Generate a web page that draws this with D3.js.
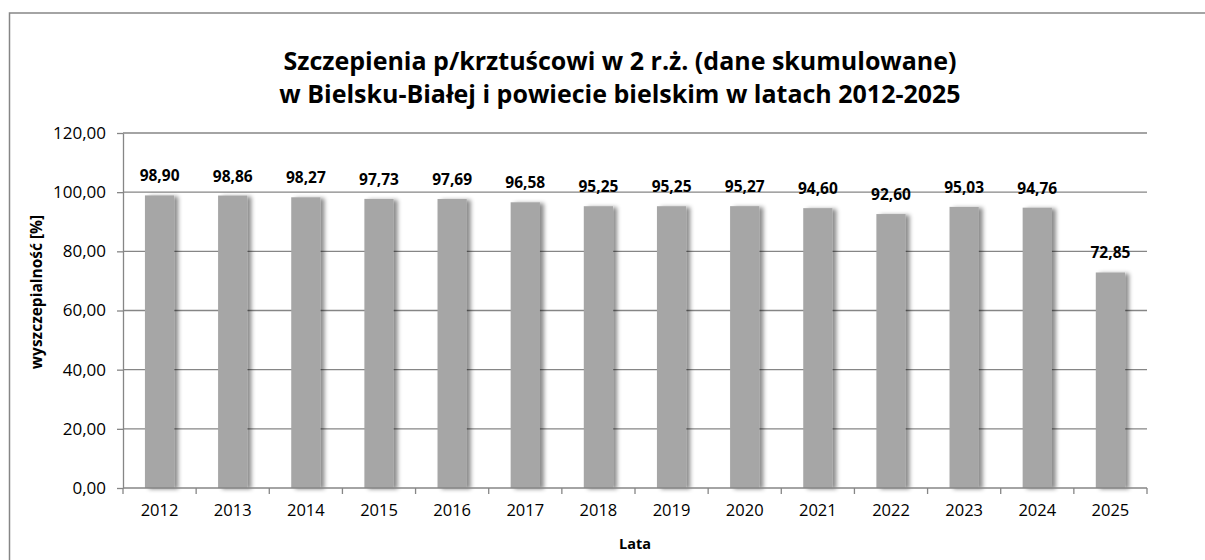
<!DOCTYPE html>
<html>
<head>
<meta charset="utf-8">
<script src="https://cdn.jsdelivr.net/npm/d3@7"></script>
<style>
	body { margin: 0; background: #fff; }
	svg { display: block; font-family: "Open Sans", Lato, sans-serif; }
</style>
</head>
<body>
<div id="chart"></div>
<script>
const years = ["2012", "2013", "2014", "2015", "2016", "2017", "2018", "2019", "2020", "2021", "2022", "2023", "2024", "2025"];
const coverage = [98.90, 98.86, 98.27, 97.73, 97.69, 96.58, 95.25, 95.25, 95.27, 94.60, 92.60, 95.03, 94.76, 72.85];
const yTicks = [0, 20, 40, 60, 80, 100, 120];
const titleLines = ["Szczepienia p/krztuścowi w 2 r.ż. (dane skumulowane)", "w Bielsku-Białej i powiecie bielskim w latach 2012-2025"];

const width = 1205, height = 560;
const plotLeft = 123, plotRight = 1147, plotTop = 133, plotBottom = 488;
const fmt = v => v.toFixed(2).replace(".", ",");

let svg = d3.select("#chart")
			.append("svg")
			.attr("width", width)
			.attr("height", height);

let defs = svg.append("defs");
defs.append("filter")
	.attr("id", "shadow")
	.attr("x", "-20%").attr("y", "-5%")
	.attr("width", "160%").attr("height", "115%")
	.append("feDropShadow")
	.attr("dx", 4).attr("dy", 1)
	.attr("stdDeviation", 2.2)
	.attr("flood-color", "#000")
	.attr("flood-opacity", 0.45);

// chart frame
svg.append("rect")
	.attr("x", 9.5).attr("y", 13)
	.attr("width", 1220).attr("height", 600)
	.attr("fill", "none")
	.attr("stroke", "#868686")
	.attr("stroke-width", 1.5);

svg.append("text")
	.attr("x", 620)
	.attr("text-anchor", "middle")
	.style("font-weight", "bold")
	.style("font-size", "25px")
	.attr("fill", "#000")
	.selectAll("tspan")
	.data(titleLines)
	.enter()
	.append("tspan")
	.attr("x", 620)
	.attr("y", (d, i) => 70 + i * 33)
	.text(d => d);

const xScale = d3.scaleBand()
				.domain(years)
				.range([plotLeft, plotRight])
				.paddingInner(0.6)
				.paddingOuter(0.3);
const yScale = d3.scaleLinear()
				.domain([0, 120])
				.range([plotBottom, plotTop]);

// gridlines
svg.append("g")
	.selectAll("line")
	.data(yTicks.filter(d => d > 0))
	.enter()
	.append("line")
	.attr("x1", plotLeft).attr("x2", plotRight)
	.attr("y1", d => yScale(d)).attr("y2", d => yScale(d))
	.attr("stroke", "#868686")
	.attr("stroke-width", 1.3);

const yAxis = d3.axisLeft(yScale).tickValues(yTicks).tickFormat(fmt).tickSize(6).tickSizeOuter(0);
let gy = svg.append("g")
	.attr("transform", `translate(${plotLeft},0)`)
	.call(yAxis);
gy.selectAll("text").style("font-size", "17px").attr("fill", "#000").attr("x", -17)
	.style("font-family", "'Open Sans', sans-serif");
gy.select(".domain").attr("stroke", "#868686").attr("stroke-width", 1.3);
gy.selectAll(".tick line").attr("stroke", "#868686").attr("stroke-width", 1.3);

const data = years.map((y, i) => ({ year: y, value: coverage[i] }));

svg.append("g")
	.selectAll("rect")
	.data(data)
	.enter()
	.append("rect")
	.attr("x", d => xScale(d.year))
	.attr("y", d => yScale(d.value))
	.attr("width", xScale.bandwidth())
	.attr("height", d => plotBottom - yScale(d.value))
	.attr("fill", "#a6a6a6")
	.attr("filter", "url(#shadow)");

// x axis with ticks at category boundaries
let gx = svg.append("g").attr("transform", `translate(0,${plotBottom})`);
gx.append("line")
	.attr("x1", plotLeft).attr("x2", plotRight)
	.attr("stroke", "#868686").attr("stroke-width", 1.3);
const bounds = d3.range(years.length + 1).map(i => plotLeft + i * (plotRight - plotLeft) / years.length);
gx.selectAll(".tk")
	.data(bounds)
	.enter()
	.append("line")
	.attr("class", "tk")
	.attr("x1", d => d).attr("x2", d => d)
	.attr("y1", 0).attr("y2", 6)
	.attr("stroke", "#868686").attr("stroke-width", 1.3);
gx.selectAll(".lbl")
	.data(years)
	.enter()
	.append("text")
	.attr("class", "lbl")
	.attr("x", d => xScale(d) + xScale.bandwidth() / 2)
	.attr("y", 28)
	.attr("text-anchor", "middle")
	.style("font-size", "16.5px")
	.text(d => d);

// value labels
svg.append("g")
	.selectAll("text")
	.data(data)
	.enter()
	.append("text")
	.attr("x", d => xScale(d.year) + xScale.bandwidth() / 2)
	.attr("y", d => yScale(d.value) - 14)
	.attr("text-anchor", "middle")
	.style("font-weight", "bold")
	.style("font-size", "15.5px")
	.text(d => fmt(d.value));

svg.append("text")
	.attr("x", (plotLeft + plotRight) / 2)
	.attr("y", 549)
	.attr("text-anchor", "middle")
	.style("font-weight", "bold")
	.style("font-size", "14.5px")
	.text("Lata");

svg.append("text")
	.attr("transform", "translate(42,292) rotate(-90)")
	.attr("text-anchor", "middle")
	.style("font-weight", "bold")
	.style("font-size", "15.5px")
	.text("wyszczepialność  [%]");
</script>
</body>
</html>
